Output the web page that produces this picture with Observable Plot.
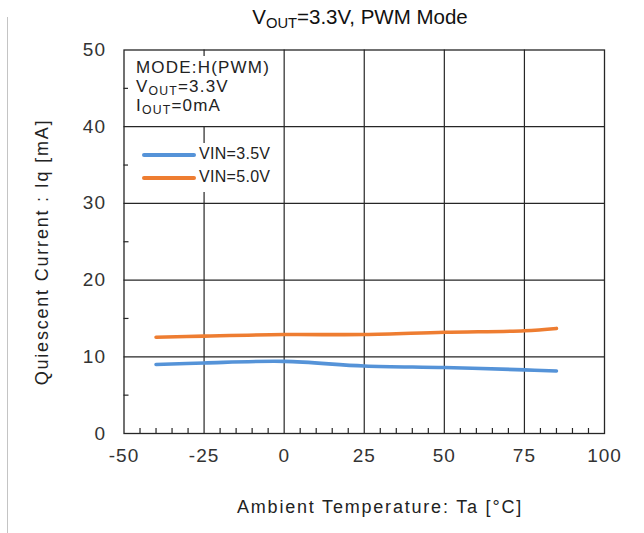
<!DOCTYPE html>
<html>
<head>
<meta charset="utf-8">
<script src="https://cdn.jsdelivr.net/npm/d3@7"></script>
<script src="https://cdn.jsdelivr.net/npm/@observablehq/plot@0.6"></script>
<style>
  html, body { margin: 0; padding: 0; background: #fff; }
  #wrap { position: relative; width: 644px; height: 533px; font-family: "Liberation Sans", Arial, sans-serif; color: #222; }
  #wrap svg { position: absolute; left: 0; top: 0; }
  .abs { position: absolute; white-space: nowrap; }
  sub { font-size: 0.72em; vertical-align: -0.25em; line-height: 0; }
  .sw { position: absolute; height: 4px; border-radius: 2px; }
</style>
</head>
<body>
<div id="wrap"></div>
<script>
// ---- data ----
const temps = [-40, -25, 0, 25, 50, 75, 85];
const vin35 = [9.0, 9.2, 9.4, 8.8, 8.6, 8.3, 8.15];
const vin50 = [12.55, 12.7, 12.9, 12.9, 13.2, 13.4, 13.7];
const seriesNames = ["VIN=3.5V", "VIN=5.0V"];
const seriesColors = ["#5593d8", "#ee7d31"];
const xTicks = [-50, -25, 0, 25, 50, 75, 100];
const yTicks = [0, 10, 20, 30, 40, 50];
const xMinor = d3.range(-45, 100, 5).filter(d => d % 25 !== 0);
const yMinor = [5, 15, 25, 35, 45];

const W = 644, H = 533;
const mL = 123.5, mR = 40, mT = 49.5, mB = 100;
const plotW = W - mL - mR, plotH = H - mT - mB;
const xTickLen = 50 * 5 / plotH;   // 5px inward in y units
const yTickLen = 150 * 5 / plotW;  // 5px inward in x units

const rows = [];
temps.forEach((t, i) => {
  rows.push({t, v: vin35[i], s: seriesNames[0]});
  rows.push({t, v: vin50[i], s: seriesNames[1]});
});

const ink = "#262626";
const chart = Plot.plot({
  width: W, height: H,
  marginLeft: mL, marginRight: mR, marginTop: mT, marginBottom: mB,
  style: {fontFamily: "'Liberation Sans', Arial, sans-serif", fontSize: "19px", color: "#333", background: "transparent", letterSpacing: "1px"},
  x: {domain: [-50, 100]},
  y: {domain: [0, 50]},
  color: {domain: seriesNames, range: seriesColors},
  marks: [
    Plot.ruleX(xTicks.slice(1, -1), {stroke: ink, strokeWidth: 1.2}),
    Plot.ruleY(yTicks.slice(1, -1), {stroke: ink, strokeWidth: 1.2}),
    Plot.ruleX(xMinor, {x: d => d, y1: 0, y2: xTickLen, stroke: ink, strokeWidth: 1.2}),
    Plot.ruleY(yMinor, {y: d => d, x1: -50, x2: -50 + yTickLen, stroke: ink, strokeWidth: 1.2}),
    Plot.frame({stroke: ink, strokeWidth: 1.3}),
    Plot.axisX({ticks: xTicks, tickSize: 0, tickPadding: 15, label: null, fontSize: 19, fill: "#333", tickFormat: d => String(d)}),
    Plot.axisY({ticks: yTicks, tickSize: 0, tickPadding: 18, label: null, fontSize: 19, fill: "#333"}),
    Plot.line(rows, {x: "t", y: "v", stroke: "s", strokeWidth: 3.6, curve: "catmull-rom", strokeLinecap: "round"})
  ]
});
const wrap = document.getElementById("wrap");
wrap.appendChild(chart);

function addDiv(html, css) {
  const d = document.createElement("div");
  d.className = "abs";
  d.innerHTML = html;
  Object.assign(d.style, css);
  wrap.appendChild(d);
  return d;
}
// left border line
addDiv("", {left: "7px", top: "17px", width: "1px", height: "516px", background: "#c4c4c4"});
// title
addDiv("V<sub>OUT</sub>=3.3V, PWM Mode", {left: "0", width: "720px", top: "5px", textAlign: "center", fontSize: "20.5px", color: "#111"});
// axis labels
addDiv("Ambient Temperature: Ta [°C]", {left: "0", width: "760px", top: "497px", textAlign: "center", fontSize: "18px", letterSpacing: "1.8px", color: "#222"});
addDiv("Quiescent Current : Iq [mA]", {left: "42px", top: "252px", transform: "translate(-50%,-50%) rotate(-90deg)", fontSize: "18px", letterSpacing: "1.8px", color: "#222"});
// annotation box
addDiv("MODE:H(PWM)<br>V<sub>OUT</sub>=3.3V<br>I<sub>OUT</sub>=0mA",
  {left: "128px", top: "56px", width: "142px", height: "68px", background: "#fff", paddingLeft: "8px", paddingTop: "2px", fontSize: "17px", letterSpacing: "1.2px", lineHeight: "19px", color: "#222"});
// legend
const lg = addDiv("", {left: "128px", top: "143px", width: "148px", height: "49px", background: "#fff"});
seriesNames.forEach((n, i) => {
  const sw = document.createElement("div");
  sw.className = "sw";
  Object.assign(sw.style, {left: "14px", top: (10 + i * 23) + "px", width: "54px", background: seriesColors[i]});
  lg.appendChild(sw);
  const t = document.createElement("div");
  t.className = "abs";
  t.textContent = n;
  Object.assign(t.style, {left: "71px", top: (2 + i * 23) + "px", fontSize: "16px", letterSpacing: "0.3px", color: "#222"});
  lg.appendChild(t);
});
</script>
</body>
</html>
